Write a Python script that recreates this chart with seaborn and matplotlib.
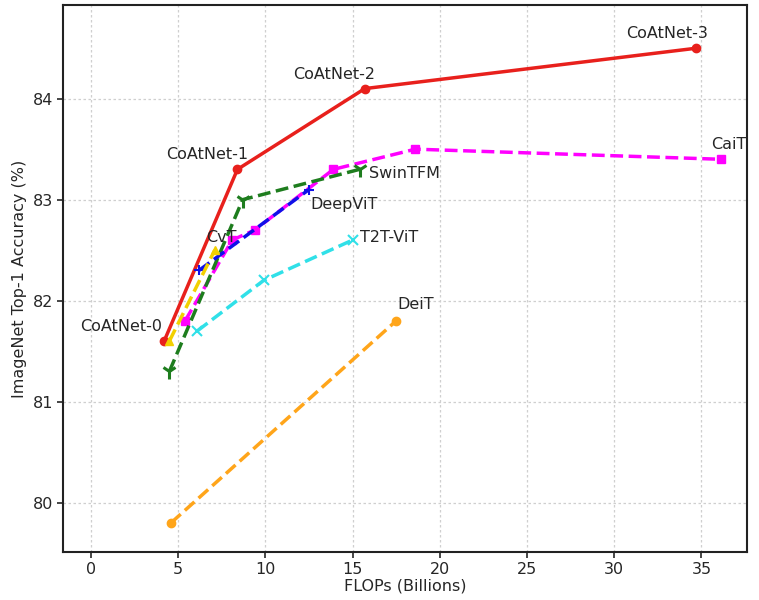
import pandas as pd
import seaborn as sns
import matplotlib.pyplot as plt

# FLOPs (billions) and ImageNet top-1 accuracy (%) per model family
coatnet_flops = [4.2, 8.4, 15.7, 34.7]
coatnet_acc = [81.6, 83.3, 84.1, 84.5]
coatnet_names = ["CoAtNet-0", "CoAtNet-1", "CoAtNet-2", "CoAtNet-3"]

cait_flops = [5.4, 8.1, 9.4, 13.9, 18.6, 36.1]
cait_acc = [81.8, 82.6, 82.7, 83.3, 83.5, 83.4]

swin_flops = [4.5, 8.7, 15.4]
swin_acc = [81.3, 83.0, 83.3]

deepvit_flops = [6.2, 12.5]
deepvit_acc = [82.3, 83.1]

t2t_flops = [6.1, 9.9, 15.0]
t2t_acc = [81.7, 82.2, 82.6]

cvt_flops = [4.5, 7.1]
cvt_acc = [81.6, 82.5]

deit_flops = [4.6, 17.5]
deit_acc = [79.8, 81.8]

x_ticks = [0, 5, 10, 15, 20, 25, 30, 35]
y_ticks = [80, 81, 82, 83, 84]


def main():
    sns.set_style("ticks")
    plt.rcParams["font.family"] = ["DejaVu Sans"]

    fig = plt.figure(figsize=(7.59, 6.0), dpi=100)
    ax = fig.add_axes([0.083, 0.08, 0.901, 0.912])

    series = [
        ("CoAtNet", coatnet_flops, coatnet_acc, "#e8201c", "-", "o", 6, 1),
        ("CaiT", cait_flops, cait_acc, "#ff00ff", "--", "s", 6, 1),
        ("SwinTFM", swin_flops, swin_acc, "#1e7d1e", "--", "1", 11, 2.2),
        ("DeepViT", deepvit_flops, deepvit_acc, "#1010e8", "--", "+", 7, 1.5),
        ("T2T-ViT", t2t_flops, t2t_acc, "#30e0e8", "--", "x", 7, 1.5),
        ("CvT", cvt_flops, cvt_acc, "#f2d000", "--", "^", 6, 1),
        ("DeiT", deit_flops, deit_acc, "#ffa51a", "--", "o", 6, 1),
    ]

    for name, xs, ys, color, ls, marker, ms, mew in series:
        df = pd.DataFrame({"FLOPs": xs, "Acc": ys})
        sns.lineplot(
            data=df, x="FLOPs", y="Acc", ax=ax, sort=False,
            color=color, linestyle=ls, linewidth=2.5,
            marker=marker, markersize=ms, markeredgewidth=mew,
            markeredgecolor=color, markerfacecolor=color,
        )

    fs = 11.5
    # CoAtNet labels, above and slightly left of each point
    offsets = [(-31, 5), (-22, 5), (-22, 5), (-21, 5)]
    for name, x, y, off in zip(coatnet_names, coatnet_flops, coatnet_acc, offsets):
        ax.annotate(name, (x, y), xytext=off, textcoords="offset points",
                    ha="center", va="bottom", fontsize=fs)

    ax.annotate("CaiT", (cait_flops[-1], cait_acc[-1]), xytext=(6, 5),
                textcoords="offset points", ha="center", va="bottom", fontsize=fs)
    ax.annotate("SwinTFM", (swin_flops[-1], swin_acc[-1]), xytext=(7, -3),
                textcoords="offset points", ha="left", va="center", fontsize=fs)
    ax.annotate("DeepViT", (deepvit_flops[-1], deepvit_acc[-1]), xytext=(1, -5),
                textcoords="offset points", ha="left", va="top", fontsize=fs)
    ax.annotate("T2T-ViT", (t2t_flops[-1], t2t_acc[-1]), xytext=(5, 2),
                textcoords="offset points", ha="left", va="center", fontsize=fs)
    ax.annotate("CvT", (cvt_flops[-1], cvt_acc[-1]), xytext=(-6, 4),
                textcoords="offset points", ha="left", va="bottom", fontsize=fs)
    ax.annotate("DeiT", (deit_flops[-1], deit_acc[-1]), xytext=(1, 6),
                textcoords="offset points", ha="left", va="bottom", fontsize=fs)

    ax.set_xlim(-1.6, 37.6)
    ax.set_ylim(79.51, 84.93)
    ax.set_xticks(x_ticks)
    ax.set_yticks(y_ticks)
    ax.tick_params(labelsize=fs, width=1.2, length=4, pad=3)
    ax.set_xlabel("FLOPs (Billions)", fontsize=fs, labelpad=1)
    ax.set_ylabel("ImageNet Top-1 Accuracy (%)", fontsize=fs, labelpad=4)

    ax.set_axisbelow(True)
    ax.grid(True, linestyle=(0, (2, 2)), color="#cfcfcf", linewidth=0.9)
    for sp in ax.spines.values():
        sp.set_linewidth(1.5)
        sp.set_color("#222222")

    fig.savefig("out.png", dpi=100)


if __name__ == "__main__":
    main()
